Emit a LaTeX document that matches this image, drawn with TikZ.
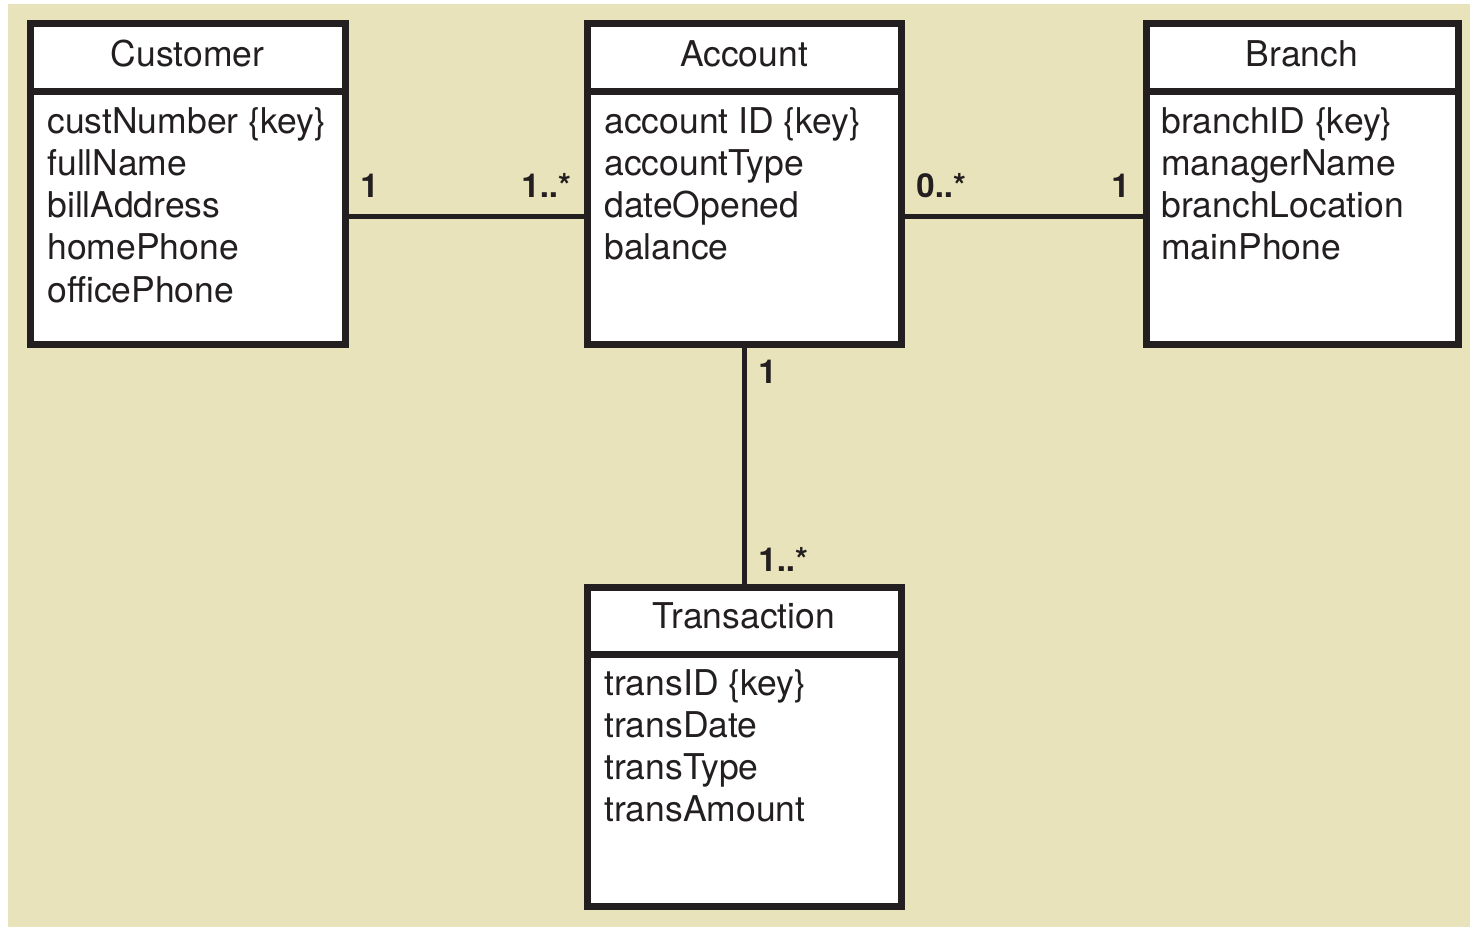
\documentclass[tikz,border=0pt]{standalone}
\usepackage{fontspec}
\setmainfont{TeX Gyre Heros}
\definecolor{bg}{RGB}{232,227,186}
\definecolor{ink}{RGB}{35,31,32}
\begin{document}
\begin{tikzpicture}[x=0.5pt,y=-0.5pt,
  classbox/.style={draw=ink, line width=3.5pt, fill=white, inner sep=0pt},
  sepline/.style={draw=ink, line width=3.5pt},
  conn/.style={draw=ink, line width=2.5pt},
  title/.style={font=\fontsize{17.75}{21}\selectfont, text=ink, anchor=base, inner sep=0pt},
  attr/.style={font=\fontsize{17.75}{21}\selectfont, text=ink, anchor=base west, inner sep=0pt},
  mult/.style={font=\fontsize{16.5}{20}\selectfont\bfseries, text=ink, anchor=base west, inner sep=0pt}]
\useasboundingbox (0,0) rectangle (1470,927);
\fill[bg] (8,4) rectangle (1470,927);

% class boxes
\node[classbox, minimum width=157.5pt, minimum height=160.5pt] (cust) at (187.5,183.5) {};
\node[classbox, minimum width=157pt, minimum height=160.5pt] (acct) at (744,183.5) {};
\node[classbox, minimum width=156pt, minimum height=160.5pt] (branch) at (1302,183.5) {};
\node[classbox, minimum width=157pt, minimum height=159.5pt] (trans) at (744,746.5) {};

% separators
\coordinate (s1) at (0,91);
\coordinate (s2) at (0,654);
\draw[sepline] (cust.west|-s1) -- (cust.east|-s1);
\draw[sepline] (acct.west|-s1) -- (acct.east|-s1);
\draw[sepline] (branch.west|-s1) -- (branch.east|-s1);
\draw[sepline] (trans.west|-s2) -- (trans.east|-s2);

% titles
\node[title] (tc) at (187.5,66) {Customer};
\node[title] (ta) at (744,66) {Account};
\node[title] (tb) at (1302,66) {Branch};
\node[title] (tt) at (744,628) {Transaction};

% attributes
\foreach \t [count=\i] in {custNumber \{key\}, fullName, billAddress, homePhone, officePhone}
  \node[attr] (ca\i) at (47,{133+42.3*(\i-1)}) {\t};
\foreach \t [count=\i] in {account ID \{key\}, accountType, dateOpened, balance}
  \node[attr] (aa\i) at (604,{133+42.3*(\i-1)}) {\t};
\foreach \t [count=\i] in {branchID \{key\}, managerName, branchLocation, mainPhone}
  \node[attr] (ba\i) at (1161,{133+42.3*(\i-1)}) {\t};
\foreach \t [count=\i] in {transID \{key\}, transDate, transType, transAmount}
  \node[attr] (ta\i) at (604,{695+42.3*(\i-1)}) {\t};

% connectors
\coordinate (hl) at (0,216);
\draw[conn] (cust.east|-hl) -- (acct.west|-hl);
\draw[conn] (acct.east|-hl) -- (branch.west|-hl);
\draw[conn] (acct.south) -- (trans.north);

% multiplicities
\node[mult] (m1) at (360,197) {1};
\node[mult] (m2) at (521,197) {1..*};
\node[mult] (m3) at (916,197) {0..*};
\node[mult] (m4) at (1111,197) {1};
\node[mult] (m5) at (758,383) {1};
\node[mult] (m6) at (758,571) {1..*};
\end{tikzpicture}
\end{document}
